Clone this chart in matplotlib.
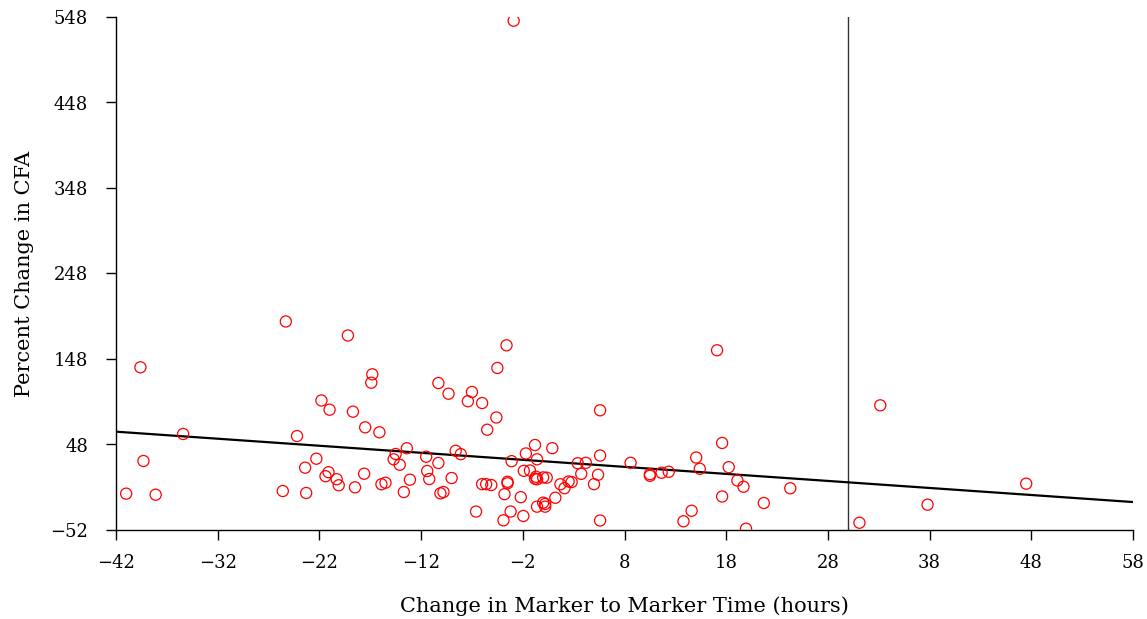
import matplotlib
matplotlib.use("Agg")
import matplotlib.pyplot as plt

# Change in marker-to-marker time (hours)
hours = [
    -2.9, -39.6, -41.0, -39.3, -38.1, -35.4, -25.3, -24.2, -25.6, -23.4,
    -23.3, -22.3, -21.8, -21.4, -21.1, -21.0, -20.3, -20.1, -19.2, -18.7,
    -18.5, -17.6, -17.5, -16.8, -16.9, -16.1, -15.9, -15.5, -14.7, -14.5,
    -14.1, -13.7, -13.4, -13.1, -11.5, -11.4, -11.2, -10.3, -10.3, -10.1,
    -9.8, -9.3, -9.0, -8.6, -8.1, -7.4, -7.0, -6.0, -6.6, -6.0,
    -5.6, -5.1, -5.5, -4.6, -4.5, -3.6, -3.8, -3.5, -3.5, -3.9,
    -3.2, -3.1, -2.2, -1.95, -1.7, -1.9, -1.3, -0.8, -0.6, -0.7,
    -0.6, -0.8, -0.6, 0.0, 0.2, 0.2, 0.0, 0.35, 0.9, 1.2,
    1.7, 2.1, 2.5, 2.8, 3.4, 4.2, 3.75, 5.4, 5.0, 5.6,
    5.6, 5.6, 8.6, 10.5, 10.5, 11.65, 12.35, 13.8, 14.6, 15.05,
    15.4, 17.1, 17.6, 17.6, 18.25, 19.1, 19.7, 19.95, 21.7, 24.3,
    31.1, 33.15, 37.8, 47.5,
]
# Percent change in CFA
pct_change = [
    543.7, 138.3, -9.5, 28.7, -10.7, 60.3, 191.9, 57.9, -6.4, 20.9,
    -8.7, 31.4, 99.5, 10.9, 15.6, 88.7, 7.4, 0.3, 175.5, 86.4,
    -2.1, 13.8, 68.1, 130.1, 120.3, 62.3, 1.5, 3.3, 30.7, 36.9,
    24.3, -7.6, 43.6, 6.8, 33.7, 17.0, 7.6, 119.9, 26.4, -9.1,
    -7.6, 107.4, 8.8, 40.6, 36.7, 98.6, 109.4, 96.5, -30.4, 1.6,
    1.6, 0.6, 65.3, 79.6, 137.5, 164.0, -10.1, 4.4, 2.6, -40.7,
    -30.4, 28.5, -13.6, -35.6, 37.5, 17.2, 17.6, 47.4, 30.7, 10.3,
    7.3, 8.0, -24.7, -20.0, -21.5, -24.7, 9.5, 9.2, 43.7, -14.3,
    1.5, -3.1, 4.7, 4.1, 26.1, 26.6, 13.7, 12.6, 1.6, 35.1,
    88.0, -40.9, 26.6, 11.4, 13.3, 15.0, 16.1, -41.8, -29.5, 32.8,
    19.6, 158.2, 49.8, -12.8, 21.5, 5.9, -1.4, -50.5, -20.4, -3.2,
    -43.5, 93.8, -22.4, 2.2,
]

# Fitted trend line (end points) and reference vertical line
fit_x = [-42, 58]
fit_y = [63.0, -19.3]
ref_hours = 30

x_ticks = [-42, -32, -22, -12, -2, 8, 18, 28, 38, 48, 58]
y_ticks = [-52, 48, 148, 248, 348, 448, 548]

plt.rcParams['font.family'] = ['DejaVu Serif']

fig = plt.figure(figsize=(11.47, 6.19), dpi=100)
ax = fig.add_axes([116 / 1147, 1 - 530 / 619, (1133 - 116) / 1147, (530 - 17) / 619])

ax.scatter(hours, pct_change, s=64, facecolors='none', edgecolors='#ff0000',
           linewidths=0.9, zorder=3)
ax.plot(fit_x, fit_y, color='black', linewidth=1.6, zorder=2)
ax.axvline(ref_hours, color='#333333', linewidth=1.0, zorder=1)

ax.set_xlim(-42, 58)
ax.set_ylim(-52, 548)
ax.set_xticks(x_ticks)
ax.set_yticks(y_ticks)
ax.set_xticklabels([f"{v}".replace('-', '\u2212') for v in x_ticks])
ax.set_yticklabels([f"{v}".replace('-', '\u2212') for v in y_ticks])

for side in ('top', 'right'):
    ax.spines[side].set_visible(False)
for side in ('left', 'bottom'):
    ax.spines[side].set_linewidth(1.0)
    ax.spines[side].set_color('black')

ax.tick_params(direction='out', length=7, width=1.0, labelsize=13)
ax.tick_params(axis='x', pad=10)
ax.tick_params(axis='y', pad=13)

ax.set_xlabel('Change in Marker to Marker Time (hours)', fontsize=15, labelpad=18)
ax.set_ylabel('Percent Change in CFA', fontsize=15, labelpad=12)

fig.savefig('out.png', dpi=100)
